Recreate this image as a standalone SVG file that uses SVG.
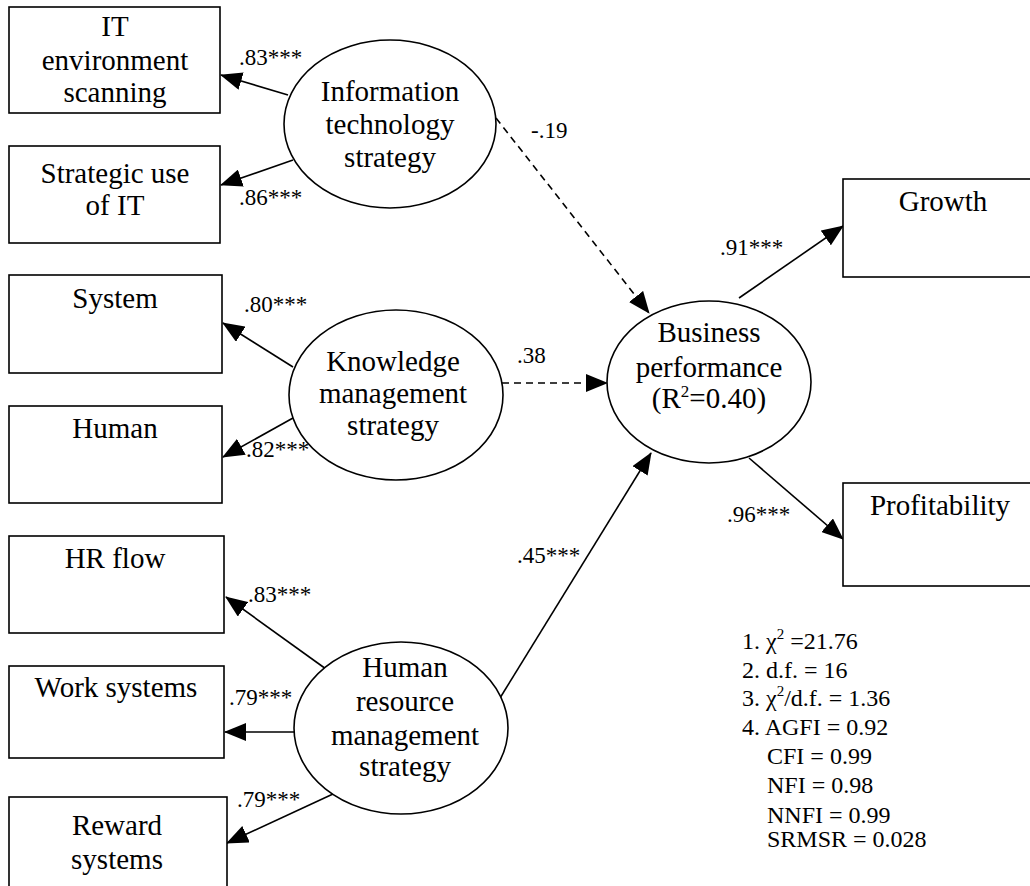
<svg xmlns="http://www.w3.org/2000/svg" width="1030" height="886" viewBox="0 0 1030 886">
<style>
  .box { fill: #fff; stroke: #000; stroke-width: 1.6; }
  .ell { fill: #fff; stroke: #000; stroke-width: 1.6; }
  .t { font-family: "Liberation Serif", "Times New Roman", serif; font-size: 29px; fill: #000; text-anchor: middle; }
  .lbl { font-family: "Liberation Serif", "Times New Roman", serif; font-size: 23px; fill: #000; }
  .st { font-family: "Liberation Serif", "Times New Roman", serif; font-size: 24px; fill: #000; }
  .c { stroke: #000; stroke-width: 1.6; fill: none; }
  .d { stroke-dasharray: 7 5; }
</style>
<defs>
  <marker id="ah" markerUnits="userSpaceOnUse" markerWidth="22" markerHeight="18" refX="21" refY="9" orient="auto">
    <path d="M0,0 L22,9 L0,18 z" fill="#000"/>
  </marker>
</defs>
<rect width="1030" height="886" fill="#fff"/>

<g id="connectors">
  <line class="c" x1="288" y1="95" x2="221" y2="75" marker-end="url(#ah)"/>
  <line class="c" x1="293" y1="160" x2="221" y2="185" marker-end="url(#ah)"/>
  <line class="c" x1="293" y1="367" x2="223" y2="323" marker-end="url(#ah)"/>
  <line class="c" x1="293" y1="418" x2="223" y2="457" marker-end="url(#ah)"/>
  <line class="c" x1="326" y1="669" x2="226" y2="597" marker-end="url(#ah)"/>
  <line class="c" x1="298" y1="732" x2="225" y2="732" marker-end="url(#ah)"/>
  <line class="c" x1="333" y1="794" x2="227" y2="843" marker-end="url(#ah)"/>
  <line class="c d" x1="496" y1="118" x2="649" y2="313" marker-end="url(#ah)"/>
  <line class="c d" x1="502" y1="383" x2="607" y2="383" marker-end="url(#ah)"/>
  <line class="c" x1="500" y1="698" x2="651" y2="453" marker-end="url(#ah)"/>
  <line class="c" x1="739" y1="298" x2="843" y2="226" marker-end="url(#ah)"/>
  <line class="c" x1="749" y1="458" x2="843" y2="539" marker-end="url(#ah)"/>
  <text class="lbl" x="239" y="65">.83***</text>
  <text class="lbl" x="239" y="205">.86***</text>
  <text class="lbl" x="244" y="312">.80***</text>
  <text class="lbl" x="246" y="457">.82***</text>
  <text class="lbl" x="248" y="602">.83***</text>
  <text class="lbl" x="229" y="705">.79***</text>
  <text class="lbl" x="237" y="807">.79***</text>
  <text class="lbl" x="531" y="138">-.19</text>
  <text class="lbl" x="517" y="363">.38</text>
  <text class="lbl" x="517" y="563">.45***</text>
  <text class="lbl" x="720" y="255">.91***</text>
  <text class="lbl" x="727" y="522">.96***</text>
</g>

<g id="it-env">
  <rect class="box" x="9" y="7" width="211" height="106"/>
  <text class="t" x="115" y="36">IT</text>
  <text class="t" x="115" y="70">environment</text>
  <text class="t" x="115" y="102">scanning</text>
</g>
<g id="strategic-use">
  <rect class="box" x="9" y="146" width="211" height="97"/>
  <text class="t" x="115" y="183">Strategic use</text>
  <text class="t" x="115" y="215">of IT</text>
</g>
<g id="system">
  <rect class="box" x="9" y="275" width="213" height="98"/>
  <text class="t" x="115" y="308">System</text>
</g>
<g id="human">
  <rect class="box" x="9" y="406" width="213" height="97"/>
  <text class="t" x="115" y="438">Human</text>
</g>
<g id="hr-flow">
  <rect class="box" x="9" y="536" width="215" height="97"/>
  <text class="t" x="115" y="568">HR flow</text>
</g>
<g id="work-systems">
  <rect class="box" x="9" y="666" width="215" height="92"/>
  <text class="t" x="116" y="697">Work systems</text>
</g>
<g id="reward-systems">
  <rect class="box" x="9" y="797" width="218" height="95"/>
  <text class="t" x="117" y="835">Reward</text>
  <text class="t" x="117" y="869">systems</text>
</g>

<g id="it-strategy">
  <ellipse class="ell" cx="390" cy="124" rx="106" ry="84"/>
  <text class="t" x="390" y="101">Information</text>
  <text class="t" x="390" y="134">technology</text>
  <text class="t" x="390" y="167">strategy</text>
</g>
<g id="km-strategy">
  <ellipse class="ell" cx="396" cy="395" rx="107" ry="85"/>
  <text class="t" x="393" y="371">Knowledge</text>
  <text class="t" x="393" y="403">management</text>
  <text class="t" x="393" y="435">strategy</text>
</g>
<g id="hrm-strategy">
  <ellipse class="ell" cx="401" cy="728" rx="107" ry="86"/>
  <text class="t" x="405" y="677">Human</text>
  <text class="t" x="405" y="711">resource</text>
  <text class="t" x="405" y="745">management</text>
  <text class="t" x="405" y="776">strategy</text>
</g>
<g id="business-performance">
  <ellipse class="ell" cx="709" cy="382" rx="102" ry="81"/>
  <text class="t" x="709" y="342">Business</text>
  <text class="t" x="709" y="377">performance</text>
  <text class="t" x="709" y="408">(R<tspan font-size="17" dy="-11">2</tspan><tspan dy="11">=0.40)</tspan></text>
</g>
<g id="growth">
  <rect class="box" x="843" y="179" width="200" height="98"/>
  <text class="t" x="943" y="211">Growth</text>
</g>
<g id="profitability">
  <rect class="box" x="843" y="483" width="200" height="103"/>
  <text class="t" x="940" y="515">Profitability</text>
</g>

<g id="fit-stats">
  <text class="st" x="742" y="649">1. χ<tspan font-size="15" dy="-10">2</tspan><tspan dy="10"> =21.76</tspan></text>
  <text class="st" x="742" y="678">2. d.f. = 16</text>
  <text class="st" x="742" y="706">3. χ<tspan font-size="15" dy="-10">2</tspan><tspan dy="10">/d.f. = 1.36</tspan></text>
  <text class="st" x="742" y="735">4. AGFI = 0.92</text>
  <text class="st" x="767" y="764">CFI = 0.99</text>
  <text class="st" x="767" y="793">NFI = 0.98</text>
  <text class="st" x="767" y="823">NNFI = 0.99</text>
  <text class="st" x="767" y="847">SRMSR = 0.028</text>
</g>
</svg>
